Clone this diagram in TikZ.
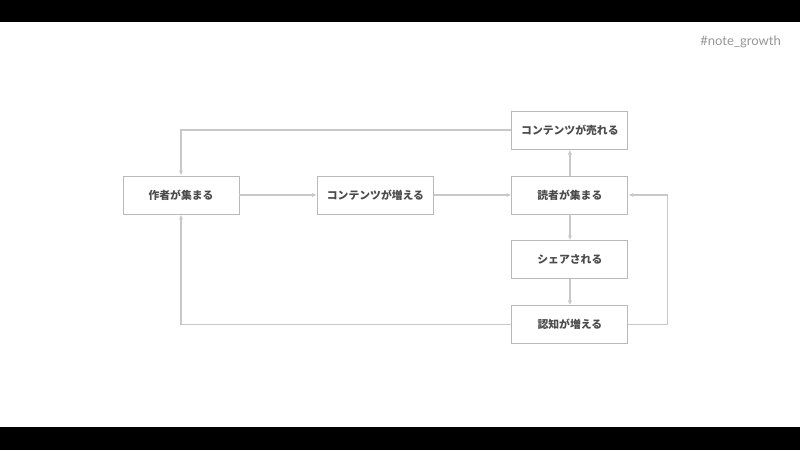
\documentclass[tikz,border=0pt]{standalone}
\usepackage{fontspec}
\setmainfont{Lato}
\newfontfamily\jp{Noto Sans CJK JP}
\usepackage{xcolor}
\usepackage{tikz}
\usetikzlibrary{arrows.meta, positioning}

\definecolor{boxline}{RGB}{185,185,185}
\definecolor{flowline}{RGB}{200,200,200}
\definecolor{labeltext}{RGB}{75,75,75}
\definecolor{tagtext}{RGB}{150,150,150}

\begin{document}
\begin{tikzpicture}[
      node distance=0.65cm and 1.94cm,
      every node/.style={rectangle, draw=boxline, line width=0.6pt, minimum width=2.9cm, minimum height=0.95cm,
        font=\jp\bfseries\fontsize{7.7}{9}\selectfont, text=labeltext},
      flow/.style={draw=flowline, line width=1pt, -{Latex[length=3.5pt, width=3pt]}}
    ]
      \useasboundingbox (0,0) rectangle (20,-11.25);
      \fill[black] (0,0) rectangle (20,-0.55);
      \fill[black] (0,-10.675) rectangle (20,-11.25);

      \node (authors) at (4.525,-4.875) {作者が集まる};
      \node[right=of authors] (contents) {コンテンツが増える};
      \node[right=of contents] (readers) {読者が集まる};
      \node[above=of readers] (sold) {コンテンツが売れる};
      \node[below=of readers] (shared) {シェアされる};
      \node[below=of shared] (aware) {認知が増える};

      \node[draw=none, minimum width=0pt, minimum height=0pt, anchor=east, text=tagtext,
        font=\fontsize{9.3}{11}\selectfont] (tag) at (19.65,-1.05) {\#note\_growth};

      \draw[flow] (authors) -- (contents);
      \draw[flow] (contents) -- (readers);
      \draw[flow] (readers) -- (sold);
      \draw[flow] (sold.west) -| (authors.north);
      \draw[flow] (readers) -- (shared);
      \draw[flow] (shared) -- (aware);
      \draw[flow] (aware.west) -| (authors.south);
      \draw[flow] (aware.east) -- ++(0.975,0) |- (readers.east);
    \end{tikzpicture}
\end{document}
